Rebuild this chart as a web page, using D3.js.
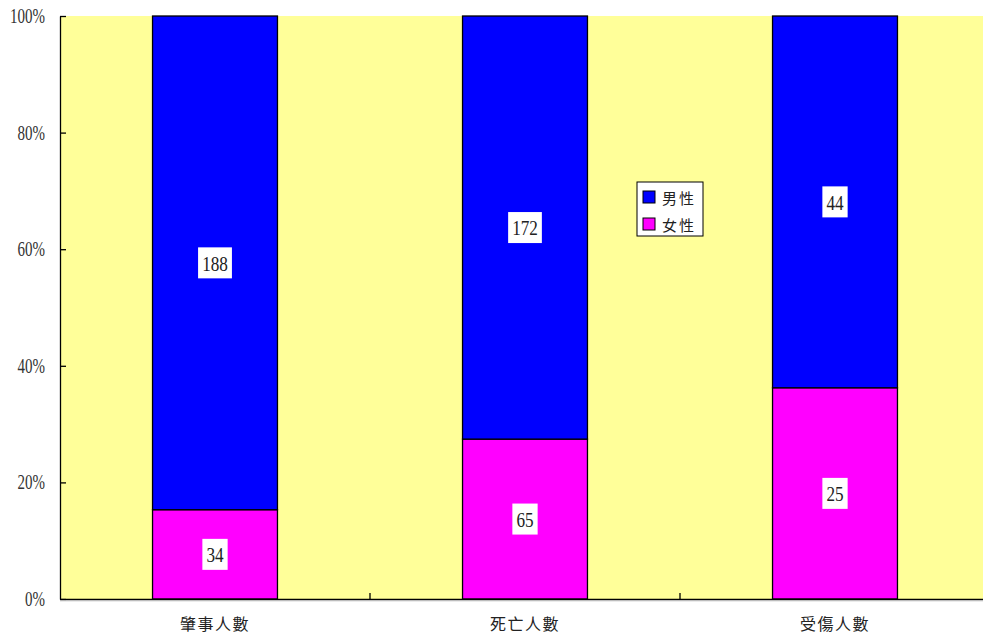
<!DOCTYPE html>
<html><head><meta charset="utf-8">
<script src="https://cdn.jsdelivr.net/npm/d3@7"></script>
<style>
body{margin:0;background:#fff;}
text{font-family:"Liberation Serif","Noto Sans CJK TC",serif;}
.cjk{font-family:"Noto Sans CJK TC","Liberation Serif",serif;}
</style>
</head><body>
<svg id="c" width="983" height="636"></svg>
<script>
const categories = ["肇事人數","死亡人數","受傷人數"];
const seriesNames = ["女性","男性"];
const female = [34, 65, 25];
const male = [188, 172, 44];
const yTicks = [0, 0.2, 0.4, 0.6, 0.8, 1.0];
const colors = {"男性":"#0000FF","女性":"#FF00FF"};

const svg = d3.select("#c");
const m = {left:60, top:16, right:-7, bottom:37};
const W = 983, H = 636;
const x0 = m.left, x1 = W - m.right, y0 = H - m.bottom, y1 = m.top;

const x = d3.scaleBand().domain(categories).range([x0, x1]).paddingInner(0).paddingOuter(0);
const y = d3.scaleLinear().domain([0,1]).range([y0, y1]);

svg.append("rect").attr("x",x0).attr("y",y1).attr("width",x1-x0).attr("height",y0-y1).attr("fill","#FFFF99");

const data = categories.map((c,i)=>({cat:c, "女性":female[i], "男性":male[i], total:female[i]+male[i]}));
const stack = d3.stack().keys(seriesNames).offset(d3.stackOffsetExpand);
const layers = stack(data);

const bw = x.bandwidth()*0.403;
layers.forEach(layer=>{
  const g = svg.append("g");
  layer.forEach((d,i)=>{
    const cx = x(data[i].cat) + x.bandwidth()/2;
    g.append("rect")
      .attr("x", cx - bw/2).attr("y", y(d[1]))
      .attr("width", bw).attr("height", y(d[0]) - y(d[1]))
      .attr("fill", colors[layer.key]).attr("stroke","#000").attr("stroke-width",1.3);
  });
});
// labels
const sx = 0.78;
layers.forEach(layer=>{
  layer.forEach((d,i)=>{
    const cx = x(data[i].cat) + x.bandwidth()/2;
    const cy = (y(d[0]) + y(d[1]))/2;
    const v = data[i][layer.key];
    const t = svg.append("text").attr("transform",`translate(${cx},${cy}) scale(${sx},1)`)
      .attr("text-anchor","middle")
      .attr("dominant-baseline","central").attr("font-size",22).attr("fill","#222").text(v);
    const bb = t.node().getBBox();
    const w = bb.width*sx;
    svg.insert("rect", () => t.node()).attr("x", cx - w/2 - 4).attr("y", cy - 15.5)
      .attr("width", w + 8).attr("height", 31).attr("fill","#fff");
  });
});

// y axis
const yAxis = d3.axisLeft(y).tickValues(yTicks).tickFormat(d3.format(".0%")).tickSizeInner(-6).tickSizeOuter(0);
const ga = svg.append("g").attr("transform",`translate(${x0},0)`).call(yAxis);
ga.select(".domain").attr("stroke","#000").attr("stroke-width",1.3);
ga.selectAll(".tick line").attr("stroke","#000").attr("stroke-width",1.3);
ga.selectAll(".tick text").attr("font-size",20).attr("fill","#333").attr("font-family","Liberation Serif")
  .attr("x", -15/0.75).attr("transform","scale(0.75,1)");

// x axis
const xAxis = d3.axisBottom(x).tickSize(0).tickPadding(20);
const gx = svg.append("g").attr("transform",`translate(0,${y0})`).call(xAxis);
gx.select(".domain").attr("stroke","#000").attr("stroke-width",1.5);
gx.selectAll(".tick text").attr("font-size",16).attr("fill","#222").attr("class","cjk").attr("letter-spacing",1.5);
// category separators
categories.slice(1).forEach(c=>{
  svg.append("line").attr("x1",x(c)).attr("x2",x(c)).attr("y1",y0).attr("y2",y0-6).attr("stroke","#000").attr("stroke-width",1.3);
});
svg.append("line").attr("x1",x0).attr("x2",W).attr("y1",y0+1.8).attr("y2",y0+1.8).attr("stroke","#bbb").attr("stroke-width",1);

// legend
const lg = svg.append("g").attr("transform","translate(637,182)");
lg.append("rect").attr("width",66).attr("height",54).attr("fill","#fff").attr("stroke","#000").attr("stroke-width",1);
["男性","女性"].forEach((k,i)=>{
  lg.append("rect").attr("x",6).attr("y",9+i*27).attr("width",12).attr("height",12).attr("fill",colors[k]).attr("stroke","#000").attr("stroke-width",1);
  lg.append("text").attr("x",25).attr("y",15+i*27).attr("dominant-baseline","central").attr("font-size",15).attr("class","cjk").attr("fill","#222").attr("letter-spacing",2).text(k);
});
</script>
</body></html>
